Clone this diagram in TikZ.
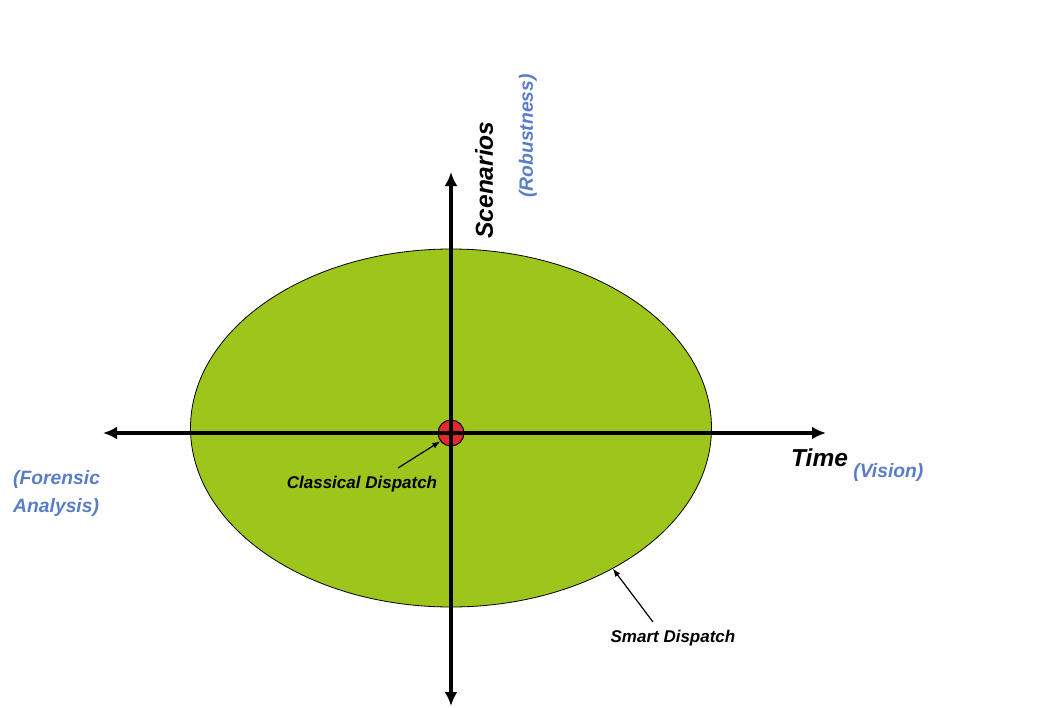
\documentclass[tikz,border=0pt]{standalone}
\usepackage{fontspec}
\setmainfont{Liberation Sans}
\usepackage{tikz}
\usetikzlibrary{arrows.meta,positioning,shapes.geometric}
\definecolor{leaf}{RGB}{158,197,28}
\definecolor{note}{RGB}{90,125,200}
\definecolor{dotred}{RGB}{228,40,48}

\begin{document}
\begin{tikzpicture}[
  x=1pt, y=-1pt,
  ax/.style={line width=3.4pt, -{Latex[length=14pt,width=13pt]}},
  ptr/.style={line width=1.2pt, -{Latex[length=8pt,width=6pt]}},
  lbl/.style={inner sep=0pt, font=\fontsize{17}{20}\selectfont\bfseries\itshape},
  big/.style={inner sep=0pt, font=\fontsize{24.5}{28}\selectfont\bfseries\itshape},
  blu/.style={inner sep=0pt, text=note, font=\fontsize{19.3}{28}\selectfont\bfseries\itshape}
]
\useasboundingbox (0,0) rectangle (1039,707);
\node[ellipse, draw, line width=0.8pt, fill=leaf, minimum width=521pt,
  minimum height=358pt] (smart) at (451,428) {};
\node[circle, draw, line width=1pt, fill=dotred, minimum size=26pt,
  inner sep=0pt] (dot) at (451,433) {};
\coordinate (w) at (103,433);
\coordinate (e) at (826,433);
\coordinate (n) at (451,172);
\coordinate (s) at (451,706);
\draw[ax] (dot.center)--(w);
\draw[ax] (dot.center)--(e);
\draw[ax] (dot.center)--(n);
\draw[ax] (dot.center)--(s);
\node[big, rotate=90] (scen) at (484,180) {Scenarios};
\node[blu, rotate=90] (rob) at (528,136) {(Robustness)};
\node[big, anchor=base west] (time) at (791,466) {Time};
\node[blu, anchor=base west, xshift=5pt, yshift=-11pt] (vis) at (time.base east) {(Vision)};
\node[blu, align=left, anchor=north west] (fa) at (13,470) {(Forensic\\Analysis)};
\node[lbl] (cd) at (362,484) {Classical Dispatch};
\node[lbl] (sd) at (673,638) {Smart Dispatch};
\coordinate (cdtail) at (398,468);
\coordinate (sdtail) at (653,622);
\draw[ptr] (cdtail)--(dot.218);
\draw[ptr] (sdtail)--(smart.-41);
\end{tikzpicture}
\end{document}
